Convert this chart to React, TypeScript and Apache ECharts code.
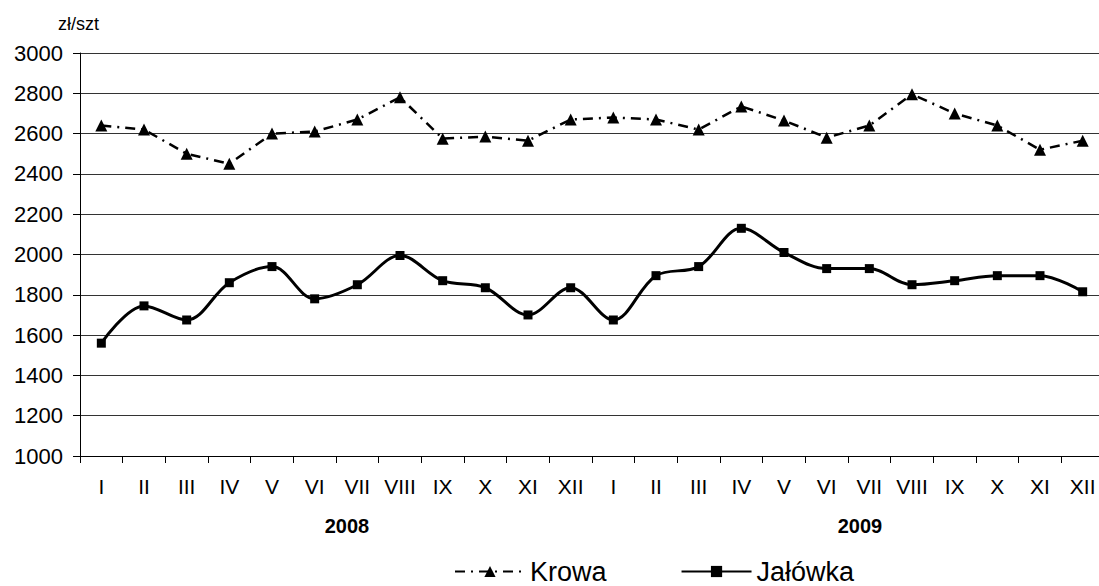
import React, { useEffect, useRef } from "react";
import * as echarts from "echarts";

const months = ["I", "II", "III", "IV", "V", "VI", "VII", "VIII", "IX", "X", "XI", "XII"];
const categories = [...months, ...months];
const yearLabels = ["2008", "2009"];
const unitLabel = "zł/szt";
const krowa = [2640, 2620, 2500, 2450, 2600, 2610, 2670, 2780, 2575, 2585, 2565, 2670,
  2680, 2670, 2620, 2735, 2665, 2580, 2640, 2795, 2700, 2640, 2520, 2565];
const jalowka = [1560, 1745, 1675, 1860, 1940, 1780, 1850, 1995, 1870, 1835, 1700, 1835,
  1675, 1895, 1940, 2130, 2010, 1930, 1930, 1850, 1870, 1895, 1895, 1815];

const FONT = "'Liberation Sans', Arial, sans-serif";

export default function App() {
  const ref = useRef<HTMLDivElement>(null);
  useEffect(() => {
    if (!ref.current) return;
    const chart = echarts.init(ref.current, undefined, { renderer: "svg" });
    chart.setOption({
      animation: false,
      backgroundColor: "#ffffff",
      textStyle: { fontFamily: FONT },
      grid: { left: 80, top: 53, right: 6, bottom: 130, containLabel: false },
      xAxis: {
        type: "category",
        data: categories,
        boundaryGap: true,
        axisLine: { lineStyle: { color: "#000", width: 1 } },
        axisTick: { show: true, length: 7, lineStyle: { color: "#000" } },
        axisLabel: { color: "#000", fontSize: 21, fontFamily: FONT, margin: 20, interval: 0 },
      },
      yAxis: {
        type: "value",
        min: 1000,
        max: 3000,
        interval: 200,
        axisLine: { show: true, lineStyle: { color: "#000", width: 1 } },
        axisTick: { show: true, length: 7, lineStyle: { color: "#000" } },
        axisLabel: {
          color: "#000",
          fontSize: 22,
          fontFamily: FONT,
          margin: 17,
          formatter: (v: number) => String(v),
        },
        splitLine: { show: true, lineStyle: { color: "#333", width: 1 } },
      },
      legend: {
        left: 454,
        top: 558,
        padding: 0,
        itemWidth: 70,
        itemHeight: 14,
        itemGap: 74,
        textStyle: { fontSize: 27, color: "#000", fontFamily: FONT },
        data: ["Krowa", "Jałówka"],
      },
      graphic: [
        { type: "text", left: 58, top: 15, style: { text: unitLabel, fontSize: 18, fill: "#000", fontFamily: FONT } },
        { type: "text", x: 347, y: 526, style: { text: yearLabels[0], fontSize: 20, fontWeight: "bold", fill: "#000", fontFamily: FONT, align: "center", verticalAlign: "middle" } },
        { type: "text", x: 860, y: 526, style: { text: yearLabels[1], fontSize: 20, fontWeight: "bold", fill: "#000", fontFamily: FONT, align: "center", verticalAlign: "middle" } },
      ],
      series: [
        {
          name: "Krowa",
          type: "line",
          data: krowa,
          symbol: "triangle",
          symbolSize: 12,
          itemStyle: { color: "#000" },
          lineStyle: { color: "#000", width: 2.5, type: [10, 6, 2, 6] },
        },
        {
          name: "Jałówka",
          type: "line",
          data: jalowka,
          smooth: 0.35,
          symbol: "rect",
          symbolSize: 9,
          itemStyle: { color: "#000" },
          lineStyle: { color: "#000", width: 3 },
        },
      ],
    });
    return () => chart.dispose();
  }, []);
  return (
    <div
      ref={ref}
      style={{ position: "fixed", left: 0, top: 0, width: 1110, height: 586 }}
    />
  );
}
